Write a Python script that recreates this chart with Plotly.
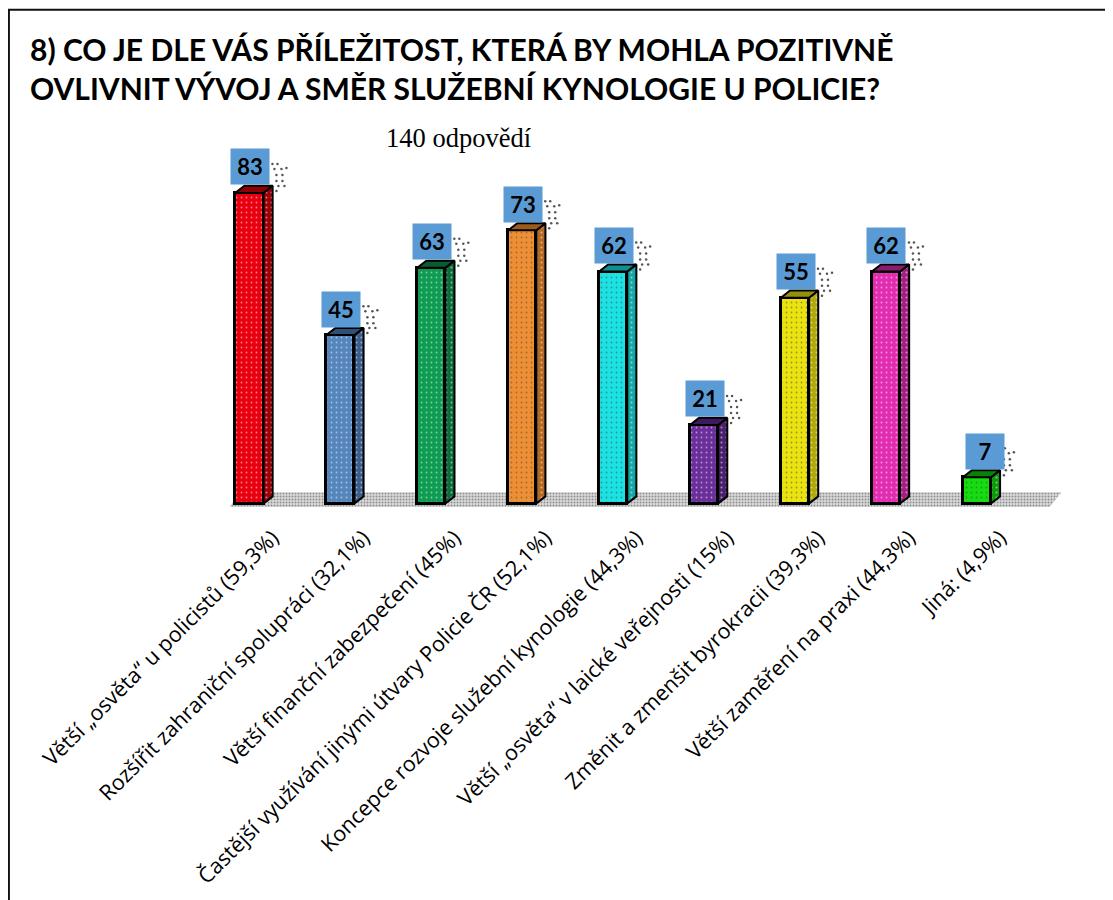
import plotly.graph_objects as go

categories = ["Větší „osvěta“ u policistů (59,3%)", "Rozšířit zahraniční spolupráci (32,1%)",
              "Větší finanční zabezpečení (45%)", "Častější využívání jinými útvary Policie ČR (52,1%)",
              "Koncepce rozvoje služební kynologie (44,3%)", "Větší „osvěta“ v laické veřejnosti (15%)",
              "Změnit a zmenšit byrokracii (39,3%)", "Větší zaměření na praxi (44,3%)", "Jiná: (4,9%)"]
values = [83, 45, 63, 73, 62, 21, 55, 62, 7]
front = ["#E8000F", "#5585BC", "#0E9B52", "#EF8F34", "#1BE3E3", "#6A2F9B", "#EBE30F", "#E22DB2", "#14DE10"]
side = ["#A00008", "#3A5F8C", "#0A6E3A", "#B56A24", "#12A8A8", "#48206C", "#AFA90A", "#A31F80", "#0C9A0A"]
top = ["#8C0006", "#2F4F78", "#075C30", "#9C5A1C", "#0E9090", "#3C1A5C", "#94900A", "#8C1A6E", "#0A820A"]
label_xshift = [0.5, 0.5, 0.5, 0.5, 0.5, 0.5, 0.5, 0.5, 8]
dots_dx = [23, 28, 25, 32, 37, 27, 33, 27, 33, 29, 35, 27]
dots_dy = [29, 29, 24, 24, 25, 18, 18, 12, 12, 7, 7, 2]

OFF = 8  # the page adds this much around the figure
W, H = 1113 - OFF, 900 - OFF
L, R, T, B = 203.5 - OFF, 27, 120 - OFF, 388.5
PX_X, PX_Y = 91.0, 3.747
YMIN = -2
ymax = (H - T - B) / PX_Y + YMIN
DX, DY = 0.1, 1.9
HALF = 0.155
n = len(values)
xrange_ = [-0.5, n + 0.2]

fig = go.Figure()

# floor, on the base axes so the bars (overlay axes) sit above it
fig.add_trace(go.Scatter(
    x=[-0.22, -0.1, n - 0.07, n - 0.2, -0.22], y=[-0.9, 3, 3, -0.9, -0.9],
    mode="lines", line=dict(width=0), fill="toself", fillcolor="rgba(0,0,0,0)",
    cliponaxis=False, hoverinfo="skip", showlegend=False,
    fillpattern=dict(shape=".", fgcolor="#444444", bgcolor="#DADADA", size=3, solidity=0.35)))

fig.add_trace(go.Bar(x=list(range(n)), y=values, width=2 * HALF, xaxis="x2", yaxis="y2",
                     marker=dict(color=front, line=dict(color="#000000", width=3),
                                 pattern=dict(shape=".", fgcolor="#FFFFFF", bgcolor=front, size=5, solidity=0.1)),
                     showlegend=False, hoverinfo="skip"))

for i, v in enumerate(values):
    r = i + HALF
    fig.add_trace(go.Scatter(x=[r, r + DX, r + DX, r, r], y=[0, DY, v + DY, v, 0], mode="lines",
                             xaxis="x2", yaxis="y2",
                             line=dict(color="#000000", width=2), fill="toself",
                             fillpattern=dict(shape=".", fgcolor="#FFFFFF", bgcolor=side[i], size=5, solidity=0.12),
                             hoverinfo="skip", showlegend=False))
    l = i - HALF
    fig.add_trace(go.Scatter(x=[l, l + DX, r + DX, r, l], y=[v, v + DY, v + DY, v, v], mode="lines",
                             xaxis="x2", yaxis="y2",
                             line=dict(color="#000000", width=2), fill="toself", fillcolor=top[i],
                             hoverinfo="skip", showlegend=False))
    fig.add_trace(go.Scatter(x=[i + d / PX_X for d in dots_dx],
                             y=[v + d / PX_Y for d in dots_dy], mode="markers",
                             xaxis="x2", yaxis="y2",
                             marker=dict(color="#555555", size=2.5), cliponaxis=False,
                             hoverinfo="skip", showlegend=False))

for i, v in enumerate(values):
    fig.add_annotation(x=i, y=v, yshift=26, xshift=label_xshift[i], text=f"<b>{v}</b>", showarrow=False,
                       bgcolor="#5B9BD5", width=36, height=33, valign="middle", align="center",
                       font=dict(family="Lato", size=22, color="#000000"))

plot_w, plot_h = W - L - R, H - T - B
fig.update_layout(
    width=W, height=H, autosize=False, margin=dict(l=L, r=R, t=T, b=B),
    paper_bgcolor="#FFFFFF", plot_bgcolor="rgba(0,0,0,0)", bargap=0, showlegend=False,
    xaxis=dict(tickmode="array", tickvals=list(range(n)), ticktext=categories,
               tickangle=-45, range=xrange_, showgrid=False, zeroline=False, showline=False,
               ticks="", ticklabelshift=23, ticklabelstandoff=9,
               tickfont=dict(family="Open Sans", size=21.5, color="#000000")),
    yaxis=dict(range=[YMIN, ymax], visible=False),
    xaxis2=dict(overlaying="x", range=xrange_, visible=False),
    yaxis2=dict(overlaying="y", range=[YMIN, ymax], visible=False),
    shapes=[dict(type="rect", xref="x domain", yref="y domain", x0=(0.3 - L) / plot_w, x1=(W + 30 - L) / plot_w,
                 y0=(H - B - H - 30) / plot_h, y1=(H - B - 1.5) / plot_h,
                 line=dict(color="#111111", width=2), layer="below")],
)
fig.add_annotation(xref="paper", yref="paper", x=(19 - L) / plot_w, y=(H - B - 60) / plot_h,
                   xanchor="left", yanchor="middle", align="left", showarrow=False,
                   text="<b>8) CO JE DLE VÁS PŘÍLEŽITOST, KTERÁ BY MOHLA POZITIVNĚ<br>OVLIVNIT VÝVOJ A SMĚR SLUŽEBNÍ KYNOLOGIE U POLICIE?</b>",
                   font=dict(family="Lato", size=30, color="#000000"))
fig.add_annotation(xref="paper", yref="paper", x=(451 - L) / plot_w, y=(H - B - 130.5) / plot_h,
                   xanchor="center", yanchor="middle", showarrow=False, text="140 odpovědí",
                   font=dict(family="Liberation Serif", size=26.5, color="#000000"))
fig.write_html("out.html")
